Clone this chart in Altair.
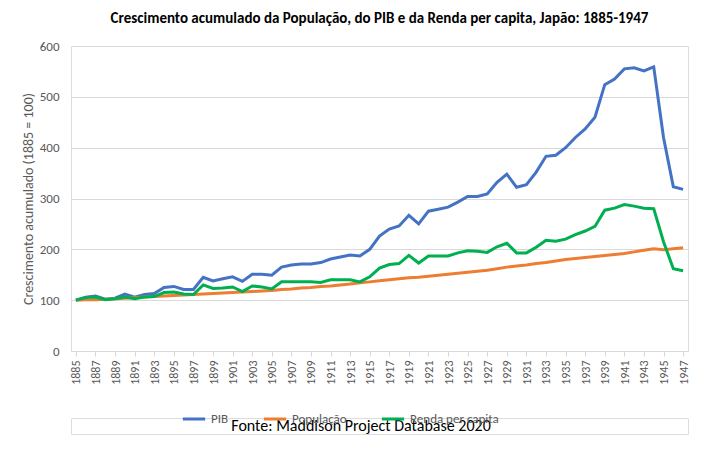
import altair as alt
import pandas as pd

years = list(range(1885, 1948))

pib = [100, 106, 108, 102, 104, 112, 106, 111, 113, 125,
       127, 121, 121, 145, 138, 142, 146, 137, 151, 151,
       149, 165, 169, 171, 171, 174, 181, 185, 189, 187,
       200, 226, 240, 246, 267, 250, 275, 279, 283, 293,
       304, 304, 309, 332, 348, 322, 327, 352, 383, 385,
       400, 420, 437, 460, 524, 535, 555, 557, 551, 559,
       420, 323, 318]

populacao = [100, 101, 101, 102, 103, 104, 105, 106, 107, 108,
             109, 110, 111, 112, 113, 114, 115, 116, 117, 118,
             119, 121, 122, 124, 125, 127, 128, 130, 132, 134,
             136, 138, 140, 142, 144, 145, 147, 149, 151, 153,
             155, 157, 159, 162, 165, 167, 169, 172, 174, 177,
             180, 182, 184, 186, 188, 190, 192, 195, 198, 201,
             199, 201, 203]

renda = [100, 105, 106, 101, 103, 106, 103, 106, 107, 115,
         116, 112, 111, 130, 123, 124, 126, 117, 128, 126,
         122, 136, 136, 136, 136, 135, 140, 140, 140, 136,
         146, 163, 170, 172, 188, 173, 187, 187, 187, 193,
         197, 196, 194, 205, 212, 193, 193, 204, 218, 216,
         220, 229, 236, 245, 277, 281, 288, 285, 281, 280,
         215, 162, 158]

series = ["PIB", "População", "Renda per capita"]
colors = ["#4472C4", "#ED7D31", "#00B050"]

rows = []
for name, vals in zip(series, [pib, populacao, renda]):
    for y, v in zip(years, vals):
        rows.append({"Ano": str(y), "Série": name, "Valor": v})
df = pd.DataFrame(rows)

tick_years = [str(y) for y in years if (y - 1885) % 2 == 0]
FONT = "Calibri, Carlito, Liberation Sans, sans-serif"

lines = alt.Chart(df).mark_line(strokeWidth=3).encode(
    x=alt.X("Ano:O", title=None, scale=alt.Scale(padding=0.5),
            axis=alt.Axis(values=tick_years, labelAngle=-90, labelFontSize=12,
                          labelColor="#595959", domainColor="#d9d9d9", tickColor="#d9d9d9",
                          labelPadding=4, tickSize=5)),
    y=alt.Y("Valor:Q", title="Crescimento acumulado (1885 = 100)",
            scale=alt.Scale(domain=[0, 600]),
            axis=alt.Axis(values=[0, 100, 200, 300, 400, 500, 600], labelFontSize=13,
                          labelColor="#595959", titleColor="#595959", titleFontSize=14,
                          titleFontWeight="normal", gridColor="#d9d9d9", domain=False,
                          ticks=False, labelPadding=12)),
    color=alt.Color("Série:N", scale=alt.Scale(domain=series, range=colors),
                    legend=alt.Legend(orient="none", legendX=110, legendY=360, direction="horizontal",
                                      title=None, symbolType="stroke",
                                      symbolStrokeWidth=3, symbolSize=500, labelFontSize=13,
                                      labelColor="#595959", columnPadding=28))
).properties(width=617, height=305,
             title=alt.TitleParams("Crescimento acumulado da População, do PIB e da Renda per capita, Japão: 1885-1947",
                                   fontSize=15, fontWeight="bold", font=FONT,
                                   anchor="middle", offset=14))

footer = alt.Chart(pd.DataFrame({"t": ["Fonte: Maddison Project Database 2020"]})).mark_text(
    fontSize=16, font=FONT, color="black"
).encode(text="t:N", x=alt.value(290), y=alt.value(8)).properties(width=617, height=16)

chart = alt.vconcat(lines, footer, spacing=32).configure_view(stroke=None).configure(
    font=FONT, padding={"left": 12, "top": 2, "right": 5, "bottom": 0})

chart.save("out.html", embed_options={"renderer": "svg", "actions": False})
